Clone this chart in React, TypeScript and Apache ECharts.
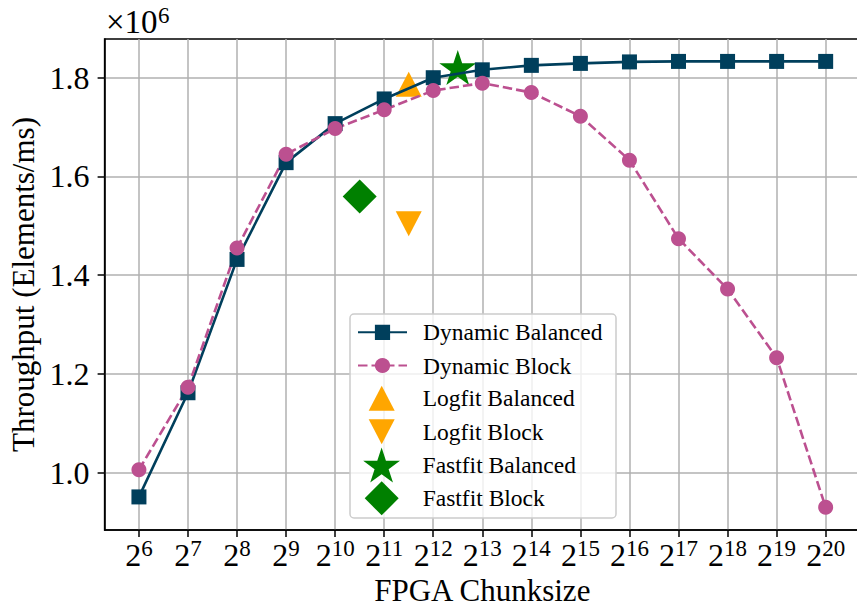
import React, { useEffect, useRef } from "react";
import * as echarts from "echarts";

// x positions are log2(chunk size)
const chunkExponents = [6, 7, 8, 9, 10, 11, 12, 13, 14, 15, 16, 17, 18, 19, 20];
// throughput in 10^6 elements/ms
const dynamicBalanced = [0.951, 1.162, 1.432, 1.628, 1.707, 1.757, 1.8, 1.816, 1.825, 1.829, 1.832, 1.833, 1.833, 1.833, 1.833];
const dynamicBlock = [1.006, 1.173, 1.455, 1.645, 1.697, 1.735, 1.774, 1.789, 1.77, 1.722, 1.633, 1.474, 1.372, 1.233, 0.93];
const logfitBalanced = [[11.5, 1.787]];
const logfitBlock = [[11.5, 1.504]];
const fastfitBalanced = [[12.5, 1.817]];
const fastfitBlock = [[10.5, 1.5595]];
const yTicks = [1.0, 1.2, 1.4, 1.6, 1.8];
const scaleBase = "×10";
const scaleExp = "6";

const FONT = "Liberation Serif";
const STAR =
  "path://M100,0 L122.45,69.1 L195.11,69.1 L136.33,111.8 L158.78,180.9 L100,138.2 L41.22,180.9 L63.67,111.8 L4.89,69.1 L77.55,69.1 Z";
const TRI_DOWN = "path://M0,0 L100,0 L50,100 Z";

export default function App() {
  const ref = useRef<HTMLDivElement>(null);
  useEffect(() => {
    if (!ref.current) return;
    const chart = echarts.init(ref.current, null, { renderer: "svg" });
    const legendText = {
      fontFamily: FONT,
      fontSize: 23.5,
      color: "#000",
    };
    const option: any = {
      animation: false,
      grid: {
        left: 104.6,
        top: 39,
        width: 755.4,
        height: 491,
        show: true,
        borderColor: "#000",
        borderWidth: 1.5,
        backgroundColor: "transparent",
        containLabel: false,
        outerBoundsMode: "none",
      },
      xAxis: {
        type: "value",
        min: 5.3,
        max: 20.7,
        name: "FPGA Chunksize",
        nameLocation: "middle",
        nameGap: 39,
        nameTextStyle: { fontFamily: FONT, fontSize: 31, color: "#000" },
        axisLine: { show: true, lineStyle: { color: "#000", width: 1.5 } },
        axisTick: { show: true, length: 7, lineStyle: { color: "#000", width: 1.5 }, customValues: chunkExponents },
        axisLabel: {
          customValues: chunkExponents,
          margin: 6.5,
          formatter: (v: number) => `{b|2}{s|${v}}`,
          rich: {
            b: { fontFamily: FONT, fontSize: 32, lineHeight: 34, verticalAlign: "bottom", color: "#000" },
            s: { fontFamily: FONT, fontSize: 23, lineHeight: 23, verticalAlign: "top", color: "#000" },
          },
        },
        splitLine: { show: true, lineStyle: { color: "#b0b0b0", width: 1.5 } },
      },
      yAxis: {
        type: "value",
        min: 0.884,
        max: 1.8784,
        name: "Throughput (Elements/ms)",
        nameLocation: "middle",
        nameGap: 64,
        nameTextStyle: { fontFamily: FONT, fontSize: 31, color: "#000" },
        axisLine: { show: true, lineStyle: { color: "#000", width: 1.5 } },
        axisTick: { show: true, length: 7, lineStyle: { color: "#000", width: 1.5 }, customValues: yTicks },
        axisLabel: {
          customValues: yTicks,
          margin: 15,
          fontFamily: FONT,
          fontSize: 32,
          color: "#000",
          formatter: (v: number) => v.toFixed(1),
        },
        splitLine: { show: true, lineStyle: { color: "#b0b0b0", width: 1.5 } },
      },
      legend: [
        {
          data: ["Dynamic Balanced", "Dynamic Block"],
          orient: "vertical",
          left: 357,
          top: 320.3,
          padding: 0,
          itemWidth: 49,
          itemHeight: 19,
          itemGap: 9.2,
          textStyle: { ...legendText, lineHeight: 19, padding: [0, 0, 0, 11] },
        },
        {
          data: [{ name: "Logfit Balanced", icon: "triangle" }, { name: "Logfit Block", icon: TRI_DOWN }],
          orient: "vertical",
          left: 368.7,
          top: 385.8,
          padding: 0,
          itemWidth: 26,
          itemHeight: 25,
          itemGap: 8.4,
          symbolKeepAspect: false,
          textStyle: { ...legendText, lineHeight: 25, padding: [0, 0, 0, 23] },
        },
        {
          data: ["Fastfit Balanced"],
          orient: "vertical",
          left: 363.2,
          top: 447.5,
          padding: 0,
          itemWidth: 37,
          itemHeight: 35,
          textStyle: { ...legendText, lineHeight: 35, padding: [0, 0, 0, 17.5] },
        },
        {
          data: ["Fastfit Block"],
          orient: "vertical",
          left: 364.7,
          top: 481.3,
          padding: 0,
          itemWidth: 34,
          itemHeight: 34,
          textStyle: { ...legendText, lineHeight: 34, padding: [0, 0, 0, 19] },
        },
      ],
      graphic: [
        {
          type: "rect",
          z: 3,
          shape: { x: 350, y: 314, width: 266, height: 204, r: 4 },
          style: { fill: "rgba(255,255,255,0.8)", stroke: "#cccccc", lineWidth: 1.5 },
        },
        {
          type: "text",
          z: 5,
          x: 106,
          y: 21.5,
          style: {
            text: scaleBase,
            fill: "#000",
            fontFamily: FONT,
            fontSize: 33,
            align: "left",
            verticalAlign: "middle",
          },
        },
        {
          type: "text",
          z: 5,
          x: 158,
          y: 15,
          style: {
            text: scaleExp,
            fill: "#000",
            fontFamily: FONT,
            fontSize: 23,
            align: "left",
            verticalAlign: "middle",
          },
        },
      ],
      series: [
        {
          name: "Dynamic Balanced",
          type: "line",
          data: chunkExponents.map((e, i) => [e, dynamicBalanced[i]]),
          symbol: "rect",
          symbolSize: 15,
          itemStyle: { color: "#003f5c" },
          lineStyle: { color: "#003f5c", width: 2.6 },
        },
        {
          name: "Dynamic Block",
          type: "line",
          data: chunkExponents.map((e, i) => [e, dynamicBlock[i]]),
          symbol: "circle",
          symbolSize: 15,
          itemStyle: { color: "#bc5090" },
          lineStyle: { color: "#bc5090", width: 2.6, type: [9.5, 4] },
        },
        {
          name: "Logfit Balanced",
          type: "scatter",
          data: logfitBalanced,
          symbol: "triangle",
          symbolSize: [26, 25],
          itemStyle: { color: "#ffa600", opacity: 1 },
        },
        {
          name: "Logfit Block",
          type: "scatter",
          data: logfitBlock,
          symbol: TRI_DOWN,
          symbolSize: [26, 25],
          itemStyle: { color: "#ffa600", opacity: 1 },
        },
        {
          name: "Fastfit Balanced",
          type: "scatter",
          data: fastfitBalanced,
          symbol: STAR,
          symbolSize: [37, 35],
          symbolOffset: [0, -1.9],
          itemStyle: { color: "#008000", opacity: 1 },
        },
        {
          name: "Fastfit Block",
          type: "scatter",
          data: fastfitBlock,
          symbol: "diamond",
          symbolSize: [34, 34],
          itemStyle: { color: "#008000", opacity: 1 },
        },
      ],
    };
    chart.setOption(option);
    return () => chart.dispose();
  }, []);
  return (
    <div
      ref={ref}
      style={{ position: "fixed", left: 0, top: 0, width: 857, height: 613, background: "#fff" }}
    />
  );
}
